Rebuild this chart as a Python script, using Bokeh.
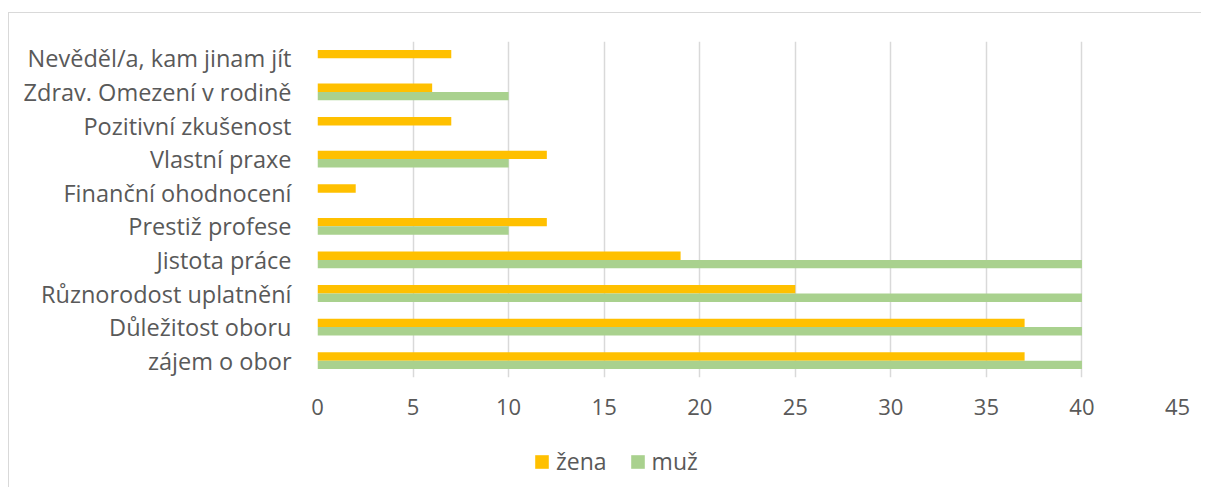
from bokeh.plotting import figure
from bokeh.models import ColumnDataSource, FactorRange, Range1d, Legend, LegendItem, FixedTicker
from bokeh.layouts import column
from bokeh.transform import dodge
from bokeh.embed import file_html
from bokeh.resources import INLINE

categories = ["zájem o obor", "Důležitost oboru", "Různorodost uplatnění", "Jistota práce",
              "Prestiž profese", "Finanční ohodnocení", "Vlastní praxe", "Pozitivní zkušenost",
              "Zdrav. Omezení v rodině", "Nevěděl/a, kam jinam jít"]
zena = [37, 37, 25, 19, 12, 2, 12, 7, 6, 7]
muz = [40, 40, 40, 40, 10, 0, 10, 0, 10, 0]
x_ticks = [0, 5, 10, 15, 20, 25, 30, 35, 40, 45]
series_names = ["žena", "muž"]
series_colors = ["#FFC000", "#A9D18E"]

FONT = "Open Sans"
TXT = "#595959"
GRID = "#d9d9d9"

src = ColumnDataSource(dict(cat=categories, zena=zena, muz=muz))

p = figure(y_range=FactorRange(*categories), x_range=Range1d(0, 45),
           frame_width=860, frame_height=336,
           min_border_left=308, min_border_right=23, min_border_top=28, min_border_bottom=50,
           output_backend="svg", toolbar_location=None)
p.outline_line_color = None
p.background_fill_color = "white"
p.border_fill_color = "white"

p.hbar(y=dodge("cat", 0.125, range=p.y_range), right="zena", left=0, height=0.25,
       fill_color=series_colors[0], line_color=None, source=src)
p.hbar(y=dodge("cat", -0.125, range=p.y_range), right="muz", left=0, height=0.25,
       fill_color=series_colors[1], line_color=None, source=src)

p.xaxis.ticker = FixedTicker(ticks=x_ticks)
p.xaxis.axis_line_color = None
p.xaxis.major_tick_line_color = None
p.xaxis.minor_tick_line_color = None
p.xaxis.major_label_text_font = FONT
p.xaxis.major_label_text_font_size = "22px"
p.xaxis.major_label_text_color = TXT
p.xaxis.major_label_standoff = 15

p.yaxis.axis_line_color = None
p.yaxis.major_tick_line_color = None
p.yaxis.minor_tick_line_color = None
p.yaxis.major_label_text_font = FONT
p.yaxis.major_label_text_font_size = "23.5px"
p.yaxis.major_label_text_color = TXT
p.yaxis.major_label_standoff = 20

p.ygrid.grid_line_color = None
p.xgrid.grid_line_color = GRID
p.xgrid.grid_line_width = 1.5

# legend strip below the chart (frames of plots in a column are aligned)
q = figure(width=1192, height=60, x_range=Range1d(0, 1), y_range=Range1d(0, 1),
           min_border=0, x_axis_type=None, y_axis_type=None,
           output_backend="svg", toolbar_location=None)
q.outline_line_color = None
q.grid.grid_line_color = None
q.background_fill_color = "white"
q.border_fill_color = "white"
# zero-size proxy boxes, only used to draw the legend swatches
proxy = ColumnDataSource(dict(a=[0.0], b=[0.0]))
lr = [q.quad(left="a", right="a", bottom="b", top="b", fill_color=c, line_color=None, source=proxy)
      for c in series_colors]

legend = Legend(items=[LegendItem(label=n, renderers=[r]) for n, r in zip(series_names, lr)],
                location=(216, 10), orientation="horizontal")
legend.border_line_color = None
legend.background_fill_alpha = 0
legend.padding = 0
legend.margin = 0
legend.glyph_width = 17
legend.glyph_height = 17
legend.label_standoff = 6
legend.spacing = 22
legend.label_text_font = FONT
legend.label_text_font_size = "23px"
legend.label_text_color = TXT
legend.label_height = 17
q.add_layout(legend, "center")

layout = column(p, q)
layout.spacing = 0
layout.margin = (12, 0, 0, 8)
layout.styles = {"border-left": "1px solid #d9d9d9", "border-top": "1px solid #d9d9d9"}

open("out.html", "w").write(file_html(layout, INLINE))
